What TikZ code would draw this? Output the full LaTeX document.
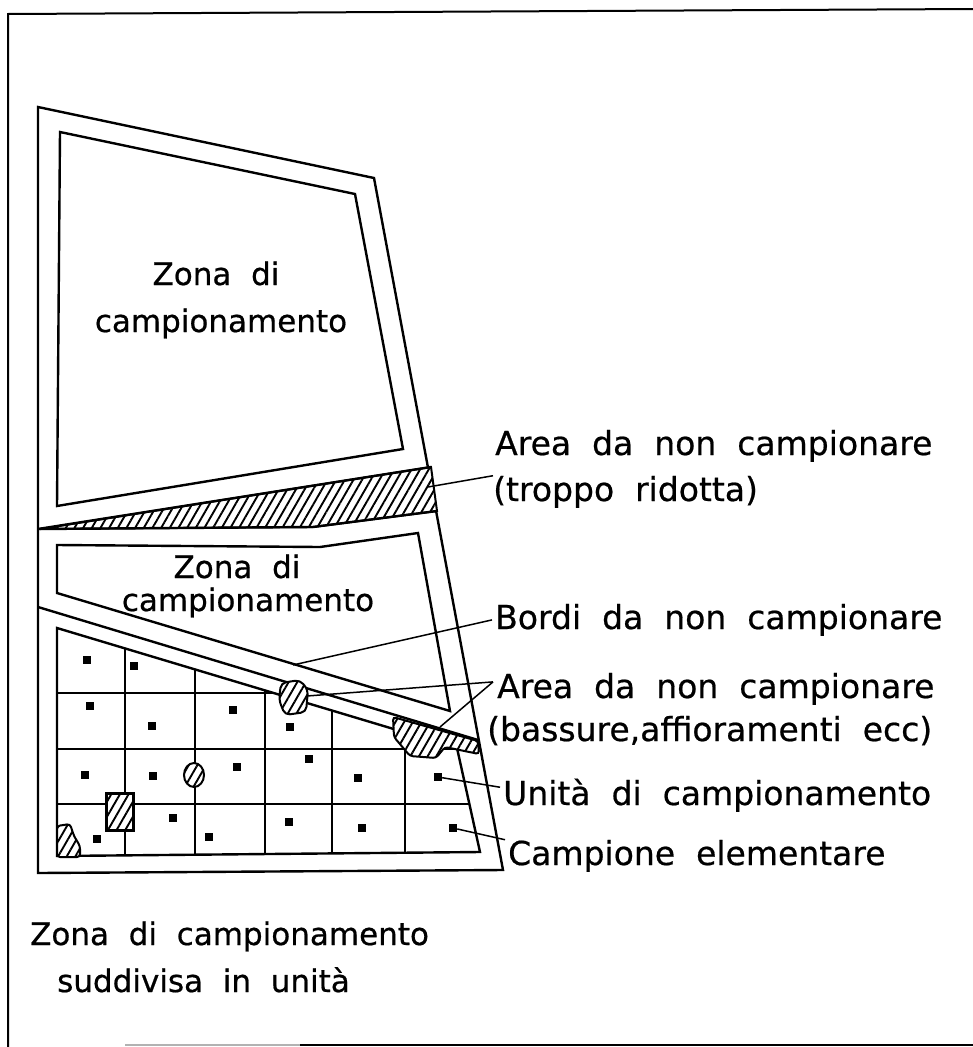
\documentclass[tikz,border=0pt]{standalone}
\usepackage{fontspec}
\setmainfont{DejaVu Sans}[WordSpace=2, FakeBold=0.6]
\usetikzlibrary{positioning, patterns.meta}

\begin{document}
\begin{tikzpicture}[
		x=1pt, y=-1pt,
		% Styles
		frame/.style={line width=2pt},
		field/.style={line width=2.4pt, line join=miter},
		gridline/.style={line width=2.2pt},
		hatch/.style={draw, line width=2pt, preaction={fill=white},
			pattern={Lines[angle=60, distance=7.5pt, line width=1.9pt]}},
		sample/.style={fill, minimum size=8pt, inner sep=0pt},
		leader/.style={line width=1.5pt},
		txt/.style={font=\fontsize{31}{46}\selectfont, inner sep=0pt},
		note/.style={font=\fontsize{33}{46}\selectfont, inner sep=0pt, anchor=base west}
	]
	\useasboundingbox (0,0) rectangle (973,1047);
	
	%% ================= SHEET FRAME =================
	\draw[frame] (973,9) -- (8,14) -- (8,1047);
	\draw[frame, gray!60] (125,1045) -- (300,1045);
	\draw[frame] (300,1045) -- (973,1045);
	
	%% ================= FIELD =================
	\draw[field] (38,107) -- (374,178) -- (503,870) -- (38,873) -- cycle;
	
	% Strip too small to sample
	\draw[hatch] (40,529) -- (431,467) -- (437,511) -- (313,527) -- cycle;
	
	% Block borders
	\draw[field] (38,529) -- (431,467);
	\draw[field] (38,529) -- (313,527) -- (437,511);
	\draw[field] (38,607) -- (478,740);
	
	% Inner sampling zones
	\draw[field] (60,132) -- (355,194) -- (403,449) -- (57,506) -- cycle;
	\draw[field] (57,545) -- (320,547) -- (418,533) -- (450,711) -- (57,593) -- cycle;
	\draw[field] (57,628) -- (457,748) -- (480,852) -- (57,856) -- cycle;
	
	% Units
	\begin{scope}
		\clip (57,628) -- (457,748) -- (480,852) -- (57,856) -- cycle;
		\foreach \gx in {125,195,265,332,405}
			\draw[gridline] (\gx,600) -- (\gx,870);
		\foreach \gy in {693,749,804}
			\draw[gridline] (40,\gy) -- (500,\gy);
	\end{scope}
	
	% Areas not to sample
	\draw[hatch, rounded corners=5pt] (281,683) -- (300,680) -- (308,690) -- (306,712) -- (285,715) -- (279,700) -- cycle;
	\draw[hatch, rounded corners=3pt] (393,717) -- (478,741) -- (479,754) -- (445,747) -- (436,758) -- (410,756) -- (394,737) -- cycle;
	\draw[hatch] (194,775) ellipse [x radius=10, y radius=12];
	\draw[hatch, line width=3pt] (106,793) rectangle (133,830);
	\draw[hatch, rounded corners=3pt] (57,826) -- (70,824) -- (74,836) -- (80,846) -- (80,857) -- (57,857) -- cycle;
	
	% Elementary samples
	\foreach \sx/\sy in {87/660, 134/666,
			90/706, 152/726, 233/710, 290/727,
			85/775, 153/776, 237/767, 309/759, 358/778,
			97/839, 173/818, 209/837, 289/822, 362/828}
		\node[sample] at (\sx,\sy) {};
	\node[sample] (unitSq) at (438,777) {};
	\node[sample] (sampleSq) at (453,828) {};
	
	%% ================= LABELS =================
	\node[txt, anchor=base] (zoneOneA) at (216,285) {Zona di};
	\node[txt, anchor=base] (zoneOneB) at (221,332) {campionamento};
	\node[txt, anchor=base] (zoneTwoA) at (237,578) {Zona di};
	\node[txt, anchor=base] (zoneTwoB) at (248,611) {campionamento};
	
	\node[note] (smallA) at (495,455) {Area da non campionare};
	\node[note] (smallB) at (493,501) {(troppo ridotta)};
	\node[note] (edgeLbl) at (495,629) {Bordi da non campionare};
	\node[note] (lowA) at (497,698) {Area da non campionare};
	\node[note] (lowB) at (487,741) {(bassure,affioramenti ecc)};
	\node[note] (unitLbl) at (503,805) {Unità di campionamento};
	\node[note] (sampleLbl) at (508,865) {Campione elementare};
	
	\node[txt, anchor=base west] (splitA) at (30,945) {Zona di campionamento};
	\node[txt, anchor=base west] (splitB) at (57,992) {suddivisa in unità};
	
	%% ================= LEADERS =================
	\coordinate (stripTip) at (428,487);
	\coordinate (edgeTip) at (293,665);
	\coordinate (lowTipA) at (307,696);
	\coordinate (lowTipB) at (440,727);
	
	\draw[leader] (stripTip) -- (smallB.north west);
	\draw[leader] (edgeTip) -- ([xshift=-3pt]edgeLbl.west);
	\draw[leader] (lowTipA) -- ([xshift=-4pt, yshift=7pt]lowA.west);
	\draw[leader] (lowTipB) -- ([xshift=-4pt, yshift=7pt]lowA.west);
	\draw[leader] (unitSq) -- ([xshift=-3pt, yshift=8pt]unitLbl.west);
	\draw[leader] (sampleSq) -- ([xshift=-3pt]sampleLbl.north west);
	
\end{tikzpicture}
\end{document}
